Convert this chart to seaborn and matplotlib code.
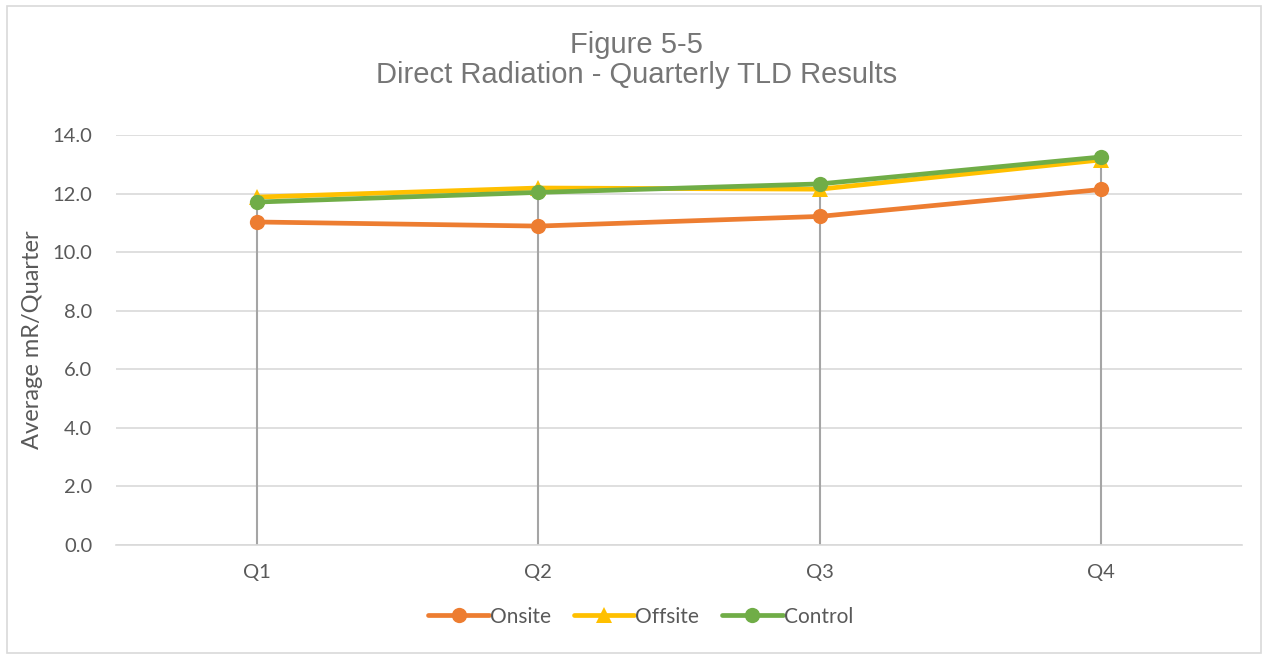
"""Direct Radiation - Quarterly TLD Results."""
import matplotlib
matplotlib.use("Agg")
import matplotlib.pyplot as plt
import seaborn as sns
import pandas as pd
from matplotlib.patches import Rectangle

quarters = ["Q1", "Q2", "Q3", "Q4"]
onsite = [11.03, 10.89, 11.22, 12.14]
offsite = [11.88, 12.19, 12.15, 13.15]
control = [11.71, 12.04, 12.33, 13.25]

series_names = ["Onsite", "Offsite", "Control"]
colors = {"Onsite": "#ED7D31", "Offsite": "#FFC000", "Control": "#70AD47"}
markers = {"Onsite": "o", "Offsite": "^", "Control": "o"}

df = pd.DataFrame({
    "quarter": quarters * 3,
    "value": onsite + offsite + control,
    "series": [s for s in series_names for _ in quarters],
})

sns.set_theme(style="white")
plt.rcParams["font.family"] = ["Lato", "DejaVu Sans"]
text_color = "#595959"

fig = plt.figure(figsize=(12.66, 6.54), dpi=100)
ax = fig.add_axes([116 / 1266, 1 - 545 / 654, 1126 / 1266, 410 / 654])

# chart border
fig.patches.append(Rectangle((7 / 1266, 0.002), 1254 / 1266, 1 - 7 / 654,
                             transform=fig.transFigure, fill=False,
                             edgecolor="#D9D9D9", linewidth=1.2))

# drop lines from the highest point down to zero
tops = df.groupby("quarter", sort=False)["value"].max()
ax.vlines(range(len(quarters)), 0, tops.values, colors="#A5A5A5",
          linewidth=1.5, zorder=1)

for name in series_names:
    sub = df[df["series"] == name]
    sns.lineplot(data=sub, x="quarter", y="value", ax=ax, color=colors[name],
                 marker=markers[name], markersize=11, markeredgewidth=0,
                 linewidth=3.4, label=name, zorder=3, sort=False)

ax.set_xlim(-0.5, 3.5)
ax.set_ylim(0, 14)
ax.set_yticks([0, 2, 4, 6, 8, 10, 12, 14])
ax.set_yticklabels([f"{v:.1f}" for v in ax.get_yticks()])
ax.yaxis.grid(True, color="#D9D9D9", linewidth=1.2)
ax.set_axisbelow(True)
for side in ["top", "right", "left"]:
    ax.spines[side].set_visible(False)
ax.spines["bottom"].set_color("#D9D9D9")
ax.spines["bottom"].set_linewidth(1.2)
ax.tick_params(axis="both", length=0, labelsize=14.5, colors=text_color)
ax.tick_params(axis="y", pad=17)
ax.tick_params(axis="x", pad=14)
ax.set_xlabel("")
ax.set_ylabel("Average mR/Quarter", fontsize=17, color=text_color, labelpad=7)

fig.text(0.503, 1 - 60 / 654, "Figure 5-5\nDirect Radiation - Quarterly TLD Results",
         ha="center", va="center", fontsize=21, color="#767676", linespacing=1.12,
         family=["Liberation Sans", "DejaVu Sans"])

leg = ax.legend(loc="center", bbox_to_anchor=(0.466, -0.175), ncol=3, frameon=False,
                fontsize=15, handlelength=2.9, handletextpad=0.05, columnspacing=1.1)
for t in leg.get_texts():
    t.set_color(text_color)

fig.savefig("out.png", dpi=100)
